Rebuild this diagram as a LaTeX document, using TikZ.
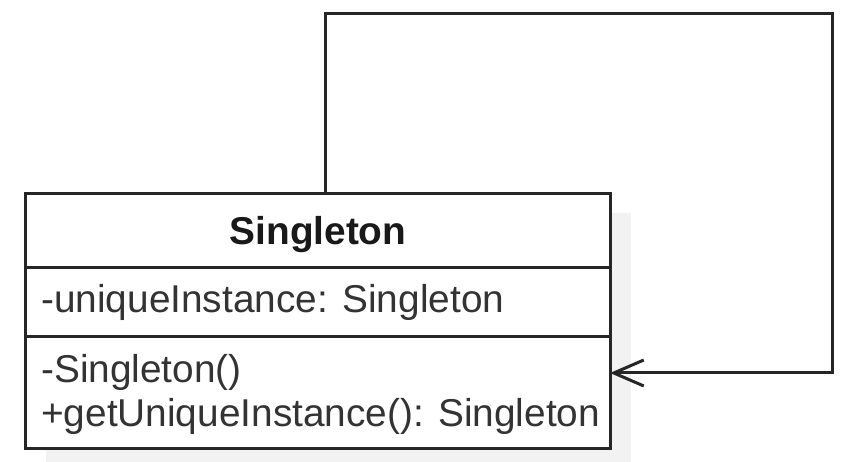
\documentclass[tikz,border=0pt]{standalone}
\usepackage{fontspec}
\setmainfont{Liberation Sans}
\usetikzlibrary{arrows.meta}
\begin{document}
\begin{tikzpicture}[x=1pt,y=-1pt,
  umlline/.style={line width=3pt, draw=black!85},
  memtext/.style={anchor=base west, inner sep=0pt, text=black!80, font=\fontsize{38.8}{44}\selectfont},
  headtext/.style={anchor=base, inner sep=0pt, text=black!90, font=\fontsize{38.8}{44}\selectfont\bfseries},
  assoc/.style={umlline, shorten >=-1.5pt, -{Straight Barb[length=30pt,width=26pt,line width=3pt]}}]
\useasboundingbox (0,0) rectangle (852,462);
% shadow
\fill[black!5] (46,213) rectangle (631,470);
% class box
\node[umlline, fill=white, rectangle, minimum width=585pt, minimum height=254pt, inner sep=0pt] (cls) at (317.5,321) {};
\coordinate (sep1w) at (25,268);
\coordinate (sep1e) at (610,268);
\coordinate (sep2w) at (25,337);
\coordinate (sep2e) at (610,337);
\draw[umlline] (sep1w) -- (sep1e);
\draw[umlline] (sep2w) -- (sep2e);
\node[headtext] (name) at (318,245) {Singleton};
\node[memtext] (attr) at (41,313) {-uniqueInstance: Singleton};
\node[memtext] (op1) at (41,383) {-Singleton()};
\node[memtext] (op2) at (41,427) {+getUniqueInstance(): Singleton};
% self association
\coordinate (c1) at (325,14);
\coordinate (c2) at (832,373);
\draw[assoc] (cls.north -| c1) -- (c1) -| (c2) -- (cls.east |- c2);
\end{tikzpicture}
\end{document}
